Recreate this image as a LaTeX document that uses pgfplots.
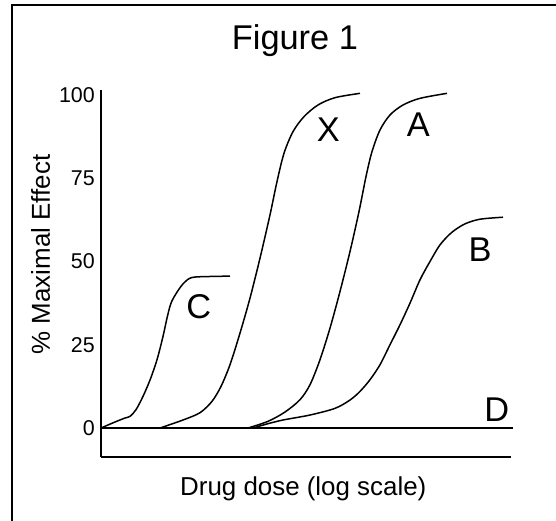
\documentclass[border=0pt]{standalone}
\usepackage{fontspec}
\setmainfont{Liberation Sans}
\usepackage{pgfplots}
\pgfplotsset{compat=1.18}
\begin{document}
\begin{tikzpicture}
\begin{axis}[
  at={(101bp,-457bp)}, anchor=south west,
  x=1bp, y=3.33bp,
  xmin=101, xmax=511, ymin=-8.709, ymax=101.5,
  axis lines=left,
  axis line style={-, line width=1.2bp, black},
  xtick=\empty, ytick={0,25,50,75,100},
  major tick length=0pt,
  tick label style={font=\fontsize{21.5}{24}\selectfont},
  yticklabel style={inner sep=0pt, xshift=-6bp},
  /pgf/number format/assume math mode=true,
  clip=false,
  title={Figure 1},
  title style={at={(axis description cs:0.473,1.0953)}, anchor=base, font=\fontsize{34.5}{40}\selectfont, inner sep=0pt},
  xlabel={Drug dose (log scale)},
  xlabel style={at={(axis description cs:0.4934,-0.1061)}, anchor=base, font=\fontsize{26}{30}\selectfont, inner sep=0pt},
  ylabel={\% Maximal Effect},
  ylabel style={at={(axis description cs:-0.1244,0.5518)}, anchor=base, rotate=0, font=\fontsize{26}{30}\selectfont, inner sep=0pt},
]
% C
\addplot[black, line width=1.5bp, smooth] coordinates {(101,0) (115,1.8) (125,3.0) (130,3.5) (136,5.5) (143,9.5) (150,14.4) (157,20.5) (163,27.5) (167,33) (171,37.5) (177,40.8) (184,43.6) (192,45.2) (210,45.5) (230,45.6)};
% X
\addplot[black, line width=1.5bp, smooth] coordinates {(160,0) (183,2.4) (200,4.6) (212,8) (221,12.5) (230,19) (240,28.5) (250,39) (260,51) (270,64) (277,74) (284,82.5) (293,89) (304,93.5) (318,97) (335,99.2) (360,100.5)};
% A
\addplot[black, line width=1.5bp, smooth] coordinates {(248,0) (268,2) (285,4.8) (300,8.5) (310,13) (320,20.5) (330,30) (340,41) (350,53) (359,65) (366,75.5) (372,83) (380,89.5) (390,94) (403,97) (420,99) (447,100.5)};
% B
\addplot[black, line width=1.5bp, smooth] coordinates {(253,0) (268,1.3) (283,2.4) (310,3.9) (335,5.9) (350,8.4) (360,11) (370,14.5) (380,19) (390,25) (400,31) (410,37.5) (420,44.5) (430,50) (440,55) (452,58.8) (465,61.3) (480,62.7) (503,63.3)};
% D
\addplot[black, line width=2bp] coordinates {(101,0) (513,0)};
\node[font=\fontsize{34.5}{40}\selectfont] at (axis cs:198.8,36.4) {C};
\node[font=\fontsize{34.5}{40}\selectfont] at (axis cs:328.3,89.7) {X};
\node[font=\fontsize{34.5}{40}\selectfont] at (axis cs:418.3,91.0) {A};
\node[font=\fontsize{34.5}{40}\selectfont] at (axis cs:480,53.7) {B};
\node[font=\fontsize{34.5}{40}\selectfont] at (axis cs:496.7,5.4) {D};
\end{axis}
\draw[line width=1.5bp] (12bp,-521bp) -- (12bp,-5bp) -- (556bp,-5bp);
\pgfresetboundingbox
\path[use as bounding box] (0bp,0bp) rectangle (556bp,-521bp);
\end{tikzpicture}
\end{document}
